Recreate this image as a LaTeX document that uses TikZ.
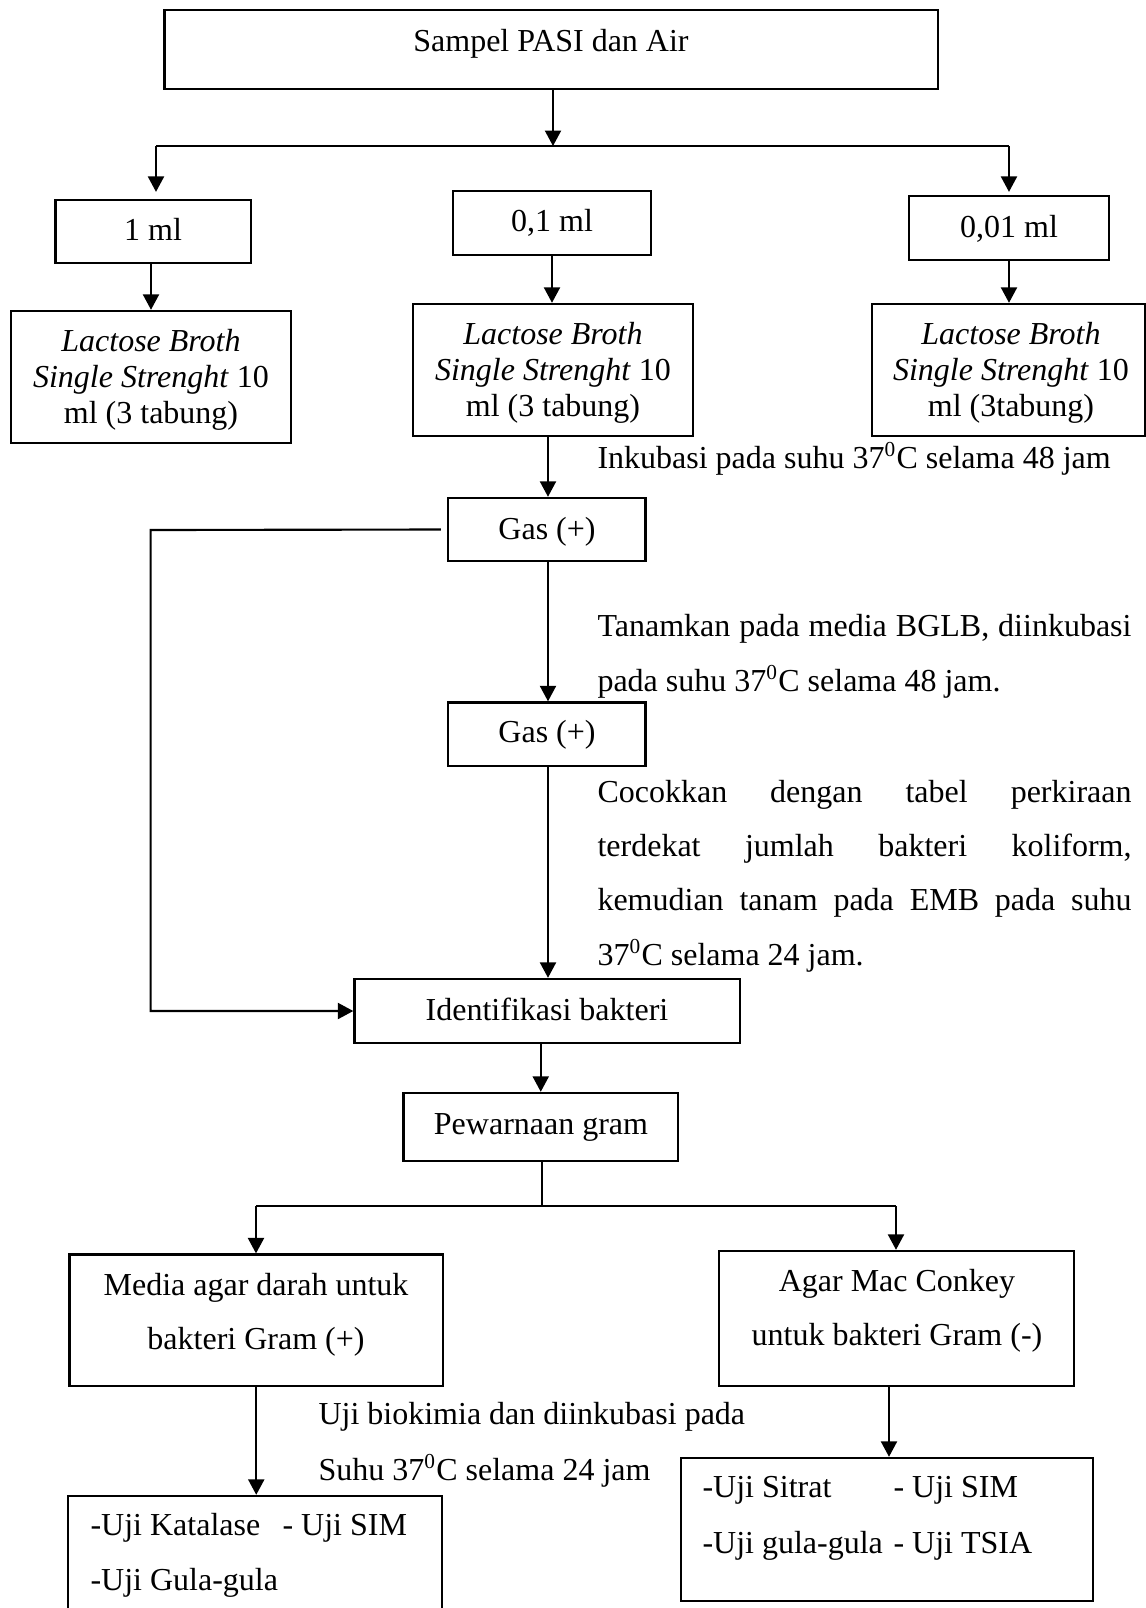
\documentclass[tikz,border=0pt]{standalone}
\usepackage{fontspec}
\setmainfont{Liberation Serif}
\usetikzlibrary{arrows.meta,fit}
\begin{document}
\begin{tikzpicture}[x=0.375pt,y=-0.375pt,
  box/.style={draw, line width=0.9pt, inner sep=0pt},
  txt/.style={inner sep=0pt, anchor=base, font=\fontsize{12}{14}\selectfont},
  ltxt/.style={txt, anchor=base west},
  ln/.style={line width=0.8pt},
  arr/.style={ln, -{Triangle[length=5.8pt,width=6pt]}},
]
\fill[white] (0,0) rectangle (1146,1608);
\useasboundingbox (0,0) rectangle (1146,1608);

% boxes
\node[box, fit={(164.5,10) (938,89)}] (top) {};
\node[box, fit={(55.5,200) (251,263)}] (ml1) {};
\node[box, fit={(453,191) (651,255)}] (ml01) {};
\node[box, fit={(909,196) (1109,260)}] (ml001) {};
\node[box, fit={(11,311) (291,443)}] (lb1) {};
\node[box, fit={(413,304) (693,436)}] (lb2) {};
\node[box, fit={(872,304) (1145,436)}] (lb3) {};
\node[box, fit={(448,498) (645.5,561)}] (gas1) {};
\node[box, fit={(448,702.5) (645.5,766)}] (gas2) {};
\node[box, fit={(354.5,979) (740,1043)}] (ident) {};
\node[box, fit={(403.5,1093) (678,1161)}] (pew) {};
\node[box, fit={(69.5,1254.6) (443,1385.7)}] (media) {};
\node[box, fit={(719,1251) (1074,1386)}] (mac) {};
\node[box, fit={(68,1496) (442,1625)}] (ujik) {};
\node[box, fit={(681,1458) (1093,1601)}] (ujis) {};

% box texts
\node[txt] (ttop) at (551,51) {Sampel PASI dan Air};
\node[txt] (tml1) at (153,240) {1 ml};
\node[txt] (tml01) at (552,231) {0,1 ml};
\node[txt] (tml001) at (1009,237) {0,01 ml};
\node[txt] (tlb1a) at (151,351) {\itshape Lactose Broth};
\node[txt] (tlb1b) at (151,387) {\textit{Single Strenght} 10};
\node[txt] (tlb1c) at (151,423) {ml (3 tabung)};
\node[txt] (tlb2a) at (553,344) {\itshape Lactose Broth};
\node[txt] (tlb2b) at (553,380) {\textit{Single Strenght} 10};
\node[txt] (tlb2c) at (553,416) {ml (3 tabung)};
\node[txt] (tlb3a) at (1011,344) {\itshape Lactose Broth};
\node[txt] (tlb3b) at (1011,380) {\textit{Single Strenght} 10};
\node[txt] (tlb3c) at (1011,416) {ml (3tabung)};
\node[txt] (tgas1) at (547,539) {Gas (+)};
\node[txt] (tgas2) at (547,742) {Gas (+)};
\node[txt] (tident) at (547,1020) {Identifikasi bakteri};
\node[txt] (tpew) at (541,1134) {Pewarnaan gram};
\node[txt] (tmedia1) at (256,1295) {Media agar darah untuk};
\node[txt] (tmedia2) at (256,1349) {bakteri Gram (+)};
\node[txt] (tmac1) at (897,1291) {Agar Mac Conkey};
\node[txt] (tmac2) at (897,1345) {untuk bakteri Gram (-)};
\node[ltxt] (tk1) at (90,1535) {-Uji Katalase};
\node[ltxt] (tk2) at (282,1535) {- Uji SIM};
\node[ltxt] (tk3) at (90,1590) {-Uji Gula-gula};
\node[ltxt] (ts1) at (702,1497) {-Uji Sitrat};
\node[ltxt] (ts2) at (893,1497) {- Uji SIM};
\node[ltxt] (ts3) at (702,1553) {-Uji gula-gula};
\node[ltxt] (ts4) at (893,1553) {- Uji TSIA};

% free texts
\node[ltxt] (n1) at (597,468) {Inkubasi pada suhu 37\textsuperscript{0}C selama 48 jam};
\node[ltxt] (n2) at (597,636) {\makebox[200.25pt][s]{Tanamkan pada media BGLB, diinkubasi}};
\node[ltxt] (n3) at (597,691) {pada suhu 37\textsuperscript{0}C selama 48 jam.};
\node[ltxt] (n4) at (597,802) {\makebox[200.25pt][s]{Cocokkan dengan tabel perkiraan}};
\node[ltxt] (n5) at (597,856) {\makebox[200.25pt][s]{terdekat jumlah bakteri koliform,}};
\node[ltxt] (n6) at (597,910) {\makebox[200.25pt][s]{kemudian tanam pada EMB pada suhu}};
\node[ltxt] (n7) at (597,965) {37\textsuperscript{0}C selama 24 jam.};
\node[ltxt] (n8) at (318,1424) {Uji biokimia dan diinkubasi pada};
\node[ltxt] (n9) at (318,1480) {Suhu 37\textsuperscript{0}C selama 24 jam};

% connectors
\coordinate (sM) at (553,146);
\coordinate (sL) at (156,146);
\coordinate (sR) at (1009,146);
\draw[arr] (sM |- top.south) -- (sM);
\draw[ln, line width=1pt] (sL) -- (sR);
\draw[arr, shorten >=2.6pt] (sL) -- (sL |- ml1.north);
\draw[arr, shorten >=1.1pt] (sR) -- (sR |- ml001.north);
\draw[arr] (lb1.north |- ml1.south) -- (lb1.north);
\draw[arr] (ml01.south) -- (ml01.south |- lb2.north);
\draw[arr] (ml001.south) -- (ml001.south |- lb3.north);
\coordinate (vx) at (548,0);
\draw[arr] (vx |- lb2.south) -- (vx |- gas1.north);
\draw[arr] (vx |- gas1.south) -- (vx |- gas2.north);
\draw[arr] (vx |- gas2.south) -- (vx |- ident.north);
\coordinate (fb) at (150.6,530);
\draw[arr] ([xshift=-2.25pt]gas1.west) -- (fb) -- (fb |- ident.west) -- (ident.west);
\draw[arr] (pew.north |- ident.south) -- (pew.north);
\coordinate (gM) at (542,1206);
\coordinate (gL) at (256,1206);
\coordinate (gR) at (896,1206);
\draw[ln] (gM |- pew.south) -- (gM);
\draw[ln, line width=1pt] (gL) -- (gR);
\draw[arr] (gL) -- (gL |- media.north);
\draw[arr] (gR) -- (gR |- mac.north);
\draw[arr] (media.south) -- (media.south |- ujik.north);
\coordinate (vs) at (889,0);
\draw[arr] (vs |- mac.south) -- (vs |- ujis.north);
\end{tikzpicture}
\end{document}
